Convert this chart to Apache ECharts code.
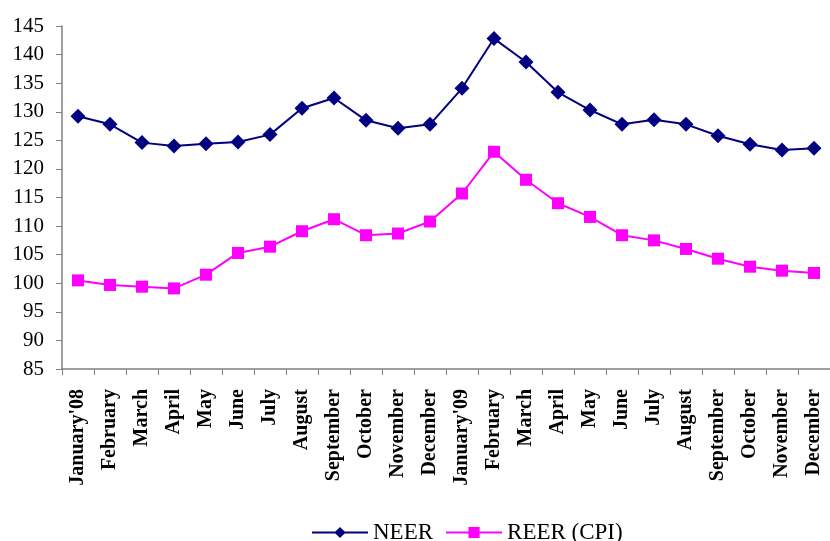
<!DOCTYPE html>
<html><head><meta charset="utf-8">
<script src="https://cdn.jsdelivr.net/npm/echarts@6/dist/echarts.min.js"></script>
<style>html,body{margin:0;padding:0;background:#fff}#c{width:830px;height:541px}</style>
</head><body><div id="c"></div>
<script>
const categories = ["January'08","February","March","April","May","June","July","August","September","October","November","December","January'09","February","March","April","May","June","July","August","September","October","November","December"];
const neer = [129.2,127.8,124.6,124.0,124.4,124.7,126.0,130.6,132.4,128.5,127.1,127.8,134.1,142.8,138.7,133.4,130.3,127.8,128.6,127.8,125.8,124.3,123.3,123.6];
const reer = [100.5,99.7,99.4,99.1,101.5,105.3,106.4,109.1,111.2,108.4,108.7,110.8,115.7,123.0,118.1,114.0,111.6,108.4,107.5,106.0,104.3,102.9,102.2,101.8];
const yTicks = {min:85, max:145, interval:5};
const font = '"Liberation Serif","Times New Roman",serif';
const chart = echarts.init(document.getElementById('c'));
chart.setOption({
  animation:false,
  backgroundColor:'#fff',
  grid:{left:62, right:0, top:26, bottom:172},
  legend:{top:516, left:306, itemWidth:56, itemHeight:14, itemGap:12,
    textStyle:{fontFamily:font, fontSize:23, color:'#000'},
    data:['NEER','REER (CPI)']},
  xAxis:{type:'category', data:categories, boundaryGap:true,
    axisLine:{lineStyle:{color:'#808080', width:1.5}},
    axisTick:{show:true, length:6, lineStyle:{color:'#808080'}},
    axisLabel:{rotate:90, interval:0, fontFamily:font, fontWeight:'bold', fontSize:20, color:'#000', margin:20},
    splitLine:{show:false}},
  yAxis:{type:'value', min:yTicks.min, max:yTicks.max, interval:yTicks.interval,
    axisLine:{show:true, lineStyle:{color:'#808080', width:1.5}},
    axisTick:{show:true, length:6, lineStyle:{color:'#808080'}},
    axisLabel:{fontFamily:font, fontSize:21, color:'#000', margin:18},
    splitLine:{show:false}},
  series:[
    {name:'NEER', type:'line', data:neer, symbol:'diamond', symbolSize:15,
     lineStyle:{color:'#000080', width:2}, itemStyle:{color:'#000080'}},
    {name:'REER (CPI)', type:'line', data:reer, symbol:'rect', symbolSize:12,
     lineStyle:{color:'#ff00ff', width:2}, itemStyle:{color:'#ff00ff'}}
  ]
});
</script></body></html>
